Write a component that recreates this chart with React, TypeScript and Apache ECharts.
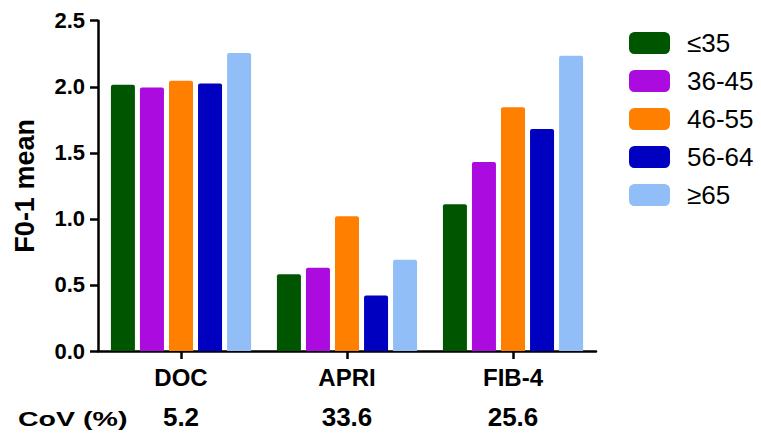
import React, { useEffect, useRef } from "react";
import * as echarts from "echarts";

const categories = ["DOC", "APRI", "FIB-4"];
const covValues = ["5.2", "33.6", "25.6"];
const seriesNames = ["≤35", "36-45", "46-55", "56-64", "≥65"];
const seriesColors = ["#005500", "#AC0BE0", "#FF8000", "#0000C0", "#92BEF8"];
const valuesLe35 = [2.015, 0.58, 1.11];
const values36to45 = [1.995, 0.63, 1.43];
const values46to55 = [2.045, 1.02, 1.845];
const values56to64 = [2.025, 0.42, 1.68];
const valuesGe65 = [2.255, 0.69, 2.235];
const seriesValues = [valuesLe35, values36to45, values46to55, values56to64, valuesGe65];
const yTicks = { min: 0, max: 2.5, interval: 0.5 };

const FONT = "'Liberation Sans', Arial, sans-serif";

export default function App() {
  const ref = useRef<HTMLDivElement>(null);
  useEffect(() => {
    if (!ref.current) return;
    const chart = echarts.init(ref.current, null, { renderer: "svg" });
    chart.setOption({
      animation: false,
      backgroundColor: "#ffffff",
      textStyle: { fontFamily: FONT },
      grid: { left: 98, top: 20.7, width: 498, height: 330.3, containLabel: false },
      legend: {
        orient: "vertical",
        left: 624,
        top: 25,
        itemWidth: 41,
        itemHeight: 22,
        itemGap: 12,
        icon: "roundRect",
        data: seriesNames,
        textStyle: {
          fontFamily: FONT,
          fontSize: 26,
          lineHeight: 22,
          color: "#000",
          padding: [0, 0, 0, 12],
        },
      },
      xAxis: {
        type: "category",
        data: categories,
        axisLine: { show: true, lineStyle: { color: "#000", width: 2.5 } },
        axisTick: { show: true, alignWithLabel: true, length: 8, lineStyle: { color: "#000", width: 2.5 } },
        axisLabel: {
          margin: 6,
          formatter: (v: string, i: number) => `{a|${v}}\n{b|${covValues[i]}}`,
          rich: {
            a: { fontFamily: FONT, fontSize: 24, fontWeight: "bold", color: "#000", lineHeight: 40 },
            b: { fontFamily: FONT, fontSize: 26, fontWeight: "bold", color: "#000", lineHeight: 40 },
          },
        },
      },
      yAxis: {
        type: "value",
        min: yTicks.min,
        max: yTicks.max,
        interval: yTicks.interval,
        name: "F0-1 mean",
        nameLocation: "middle",
        nameGap: 60,
        nameTextStyle: { fontFamily: FONT, fontSize: 27, fontWeight: "bold", color: "#000" },
        splitLine: { show: false },
        axisLine: { show: true, lineStyle: { color: "#000", width: 2.5 } },
        axisTick: { show: true, length: 8, lineStyle: { color: "#000", width: 2.5 } },
        axisLabel: {
          margin: 13,
          fontFamily: FONT,
          fontSize: 22,
          fontWeight: "bold",
          color: "#000",
          formatter: (v: number) => v.toFixed(1),
        },
      },
      graphic: [
        {
          type: "text",
          x: 18,
          y: 418,
          scaleX: 1.36,
          style: {
            text: "CoV (%)",
            fontFamily: FONT,
            fontSize: 21,
            fontWeight: "bold",
            fill: "#000",
            verticalAlign: "middle",
          },
        },
      ],
      series: seriesNames.map((name, i) => ({
        name,
        type: "bar",
        data: seriesValues[i],
        barWidth: 24,
        barGap: "21%",
        itemStyle: { color: seriesColors[i], borderRadius: [2, 2, 0, 0] },
      })),
    });
    return () => chart.dispose();
  }, []);
  return (
    <div
      ref={ref}
      style={{ position: "fixed", left: 0, top: 0, width: 761, height: 437 }}
    />
  );
}
